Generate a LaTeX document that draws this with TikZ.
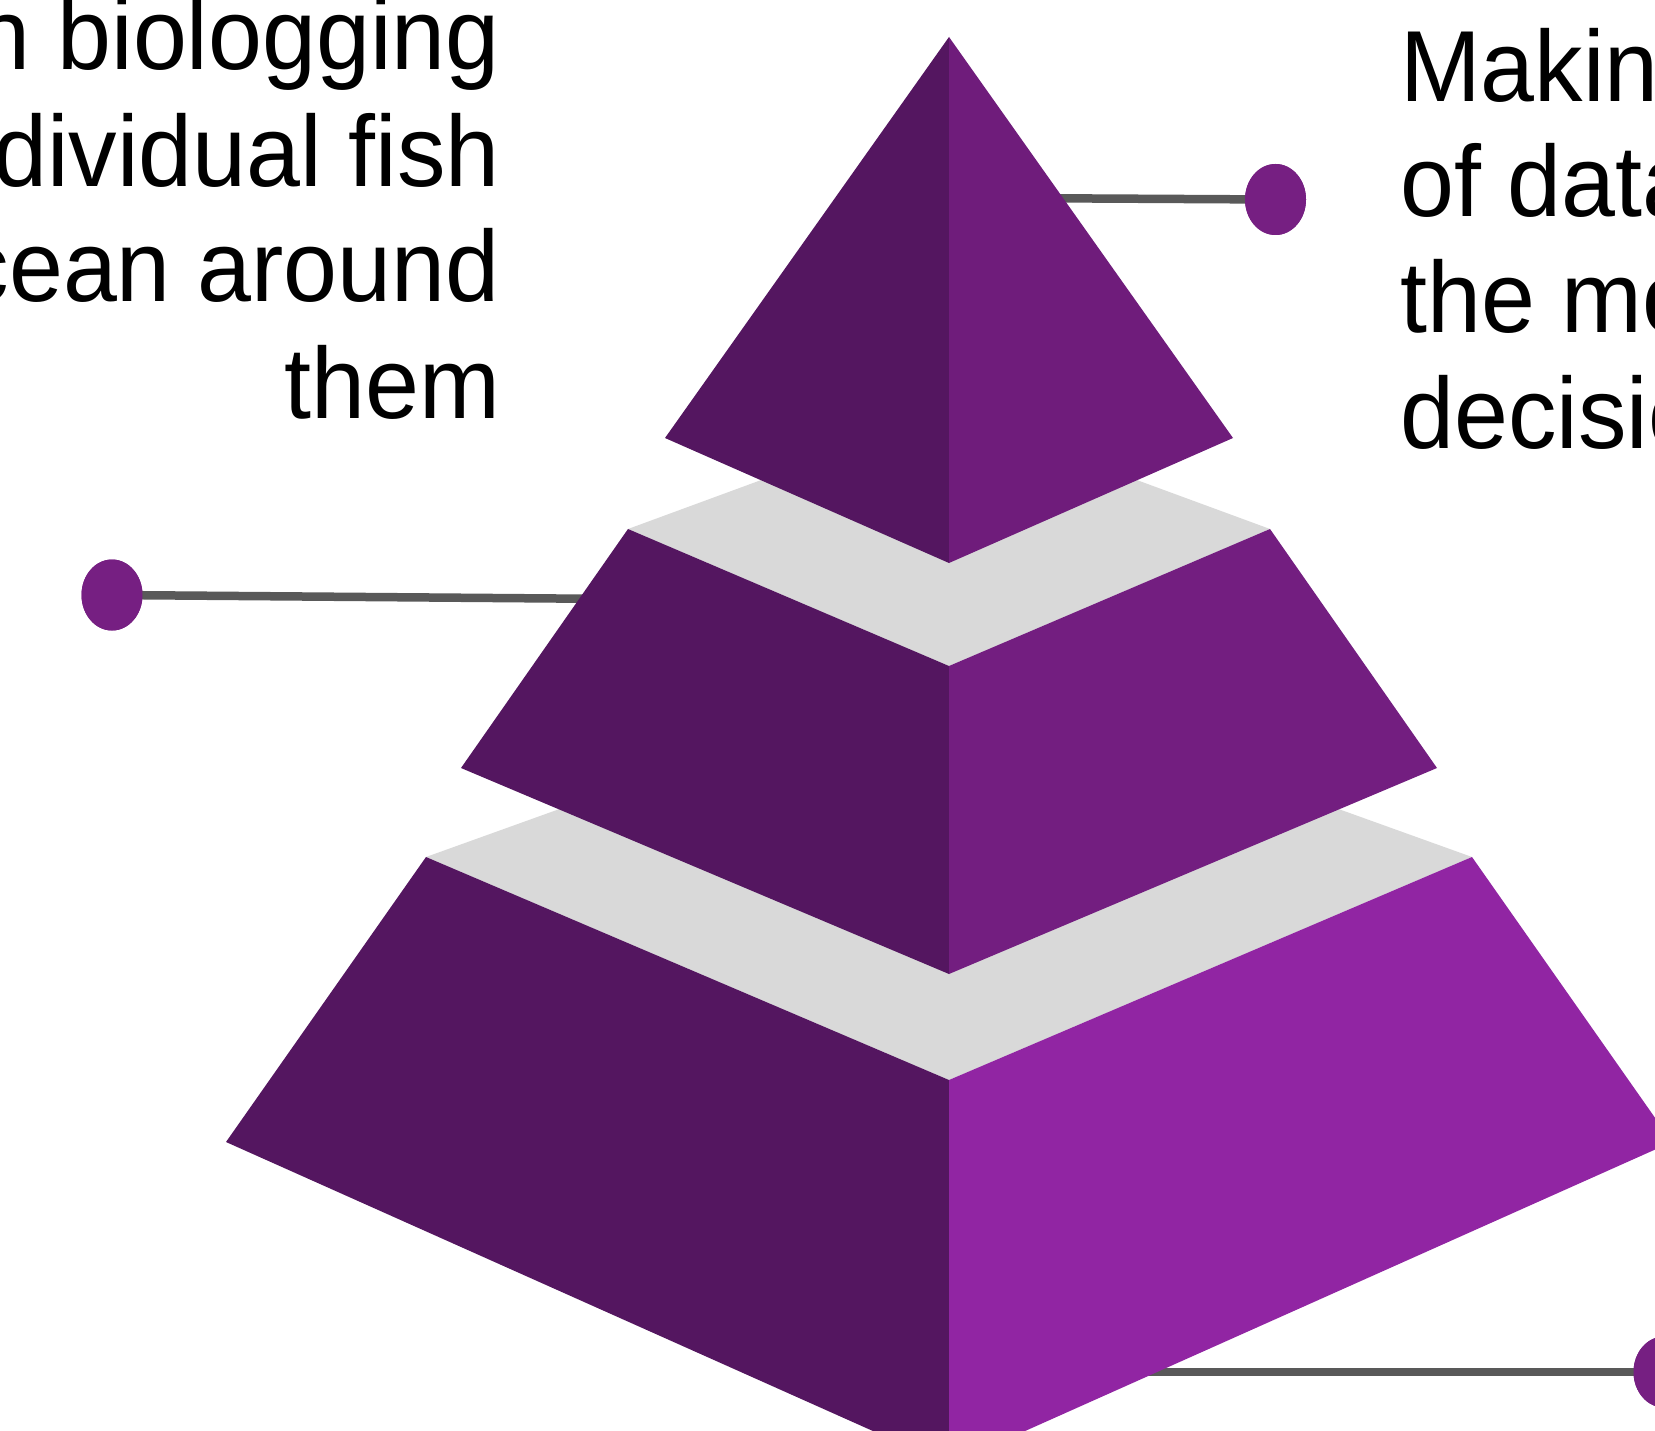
\documentclass[tikz,border=0pt]{standalone}
\usepackage{fontspec}
\setmainfont{Liberation Sans}[FakeStretch=0.96]
\usetikzlibrary{shapes.geometric}
\definecolor{pdark}{HTML}{541660}
\definecolor{ptop}{HTML}{6F1C7B}
\definecolor{pmid}{HTML}{731E80}
\definecolor{pbot}{HTML}{9125A3}
\definecolor{pdot}{HTML}{761F82}
\definecolor{pgray}{HTML}{D9D9D9}
\definecolor{pline}{HTML}{595959}
\tikzset{
  dot/.style={ellipse, fill=pdot, draw=none, minimum width=61pt, minimum height=71pt, inner sep=0pt},
  conn/.style={draw=pline, line width=8.5pt},
  lbl/.style={inner sep=0pt, font=\fontsize{101}{116}\selectfont, text=black}
}
\begin{document}
\begin{tikzpicture}[x=1pt, y=-1pt]
\useasboundingbox (0,0) rectangle (1655,1431);
\fill[white] (0,0) rectangle (1655,1431);

% connectors (beneath the pyramid)
\coordinate (c1) at (1000,198);
\coordinate (c2) at (620,599);
\coordinate (c3) at (1140,1372);
\node[dot] (d1) at (1275.5,199.5) {};
\node[dot] (d2) at (112,595) {};
\node[dot] (d3) at (1664,1372) {};
\draw[conn] (c1) -- (d1.center);
\draw[conn] (c2) -- (d2.center);
\draw[conn] (c3) -- (d3.center);

% bottom tier
\fill[pgray] (426,857) -- (949,669) -- (1472,857) -- (949,1080) -- cycle;
\fill[pdark] (426,857) -- (949,1080) -- (949,1465) -- (226,1142) -- cycle;
\fill[pbot] (1472,857) -- (949,1080) -- (949,1465) -- (1672,1142) -- cycle;

% middle tier
\fill[pgray] (628,529) -- (949,411) -- (1270,529) -- (949,666) -- cycle;
\fill[pdark] (628,529) -- (949,666) -- (949,974) -- (461,768) -- cycle;
\fill[pmid] (1270,529) -- (949,666) -- (949,974) -- (1437,768) -- cycle;

% top tier
\fill[pdark] (949,37) -- (949,563) -- (665,438) -- cycle;
\fill[ptop] (949,37) -- (949,563) -- (1233,438) -- cycle;

% dots on top again
\node[dot] at (d1) {};
\node[dot] at (d2) {};
\node[dot] at (d3) {};

% left text
\node[lbl, anchor=base east] (l1) at (500,70) {in biologging};
\node[lbl, anchor=base east] (l2) at (500,187) {individual fish};
\node[lbl, anchor=base east] (l3) at (500,302) {ocean around};
\node[lbl, anchor=base east] (l4) at (500,418) {them};

% right text
\node[lbl, anchor=base west] (r1) at (1400,102) {Making};
\node[lbl, anchor=base west] (r2) at (1400,217) {of data};
\node[lbl, anchor=base west] (r3) at (1400,333) {the mo};
\node[lbl, anchor=base west] (r4) at (1400,448) {decisio};
\end{tikzpicture}
\end{document}
